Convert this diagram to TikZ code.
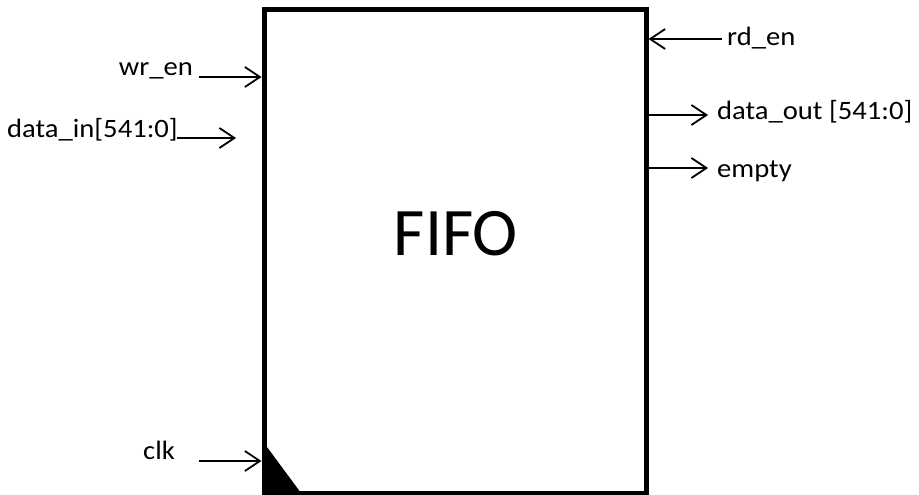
\documentclass[tikz,border=0pt]{standalone}
\usepackage{fontspec}
\setmainfont{Carlito}
\newfontfamily\labfont[FakeStretch=1.08]{Carlito}
\usetikzlibrary{arrows.meta}
\begin{document}
\begin{tikzpicture}[x=1pt,y=-1pt,
  sig/.style={line width=1.8pt,-{Straight Barb[length=15pt,width=20pt,line width=1.8pt]}},
  lab/.style={inner sep=0pt,font=\labfont\fontsize{26.5}{30}\selectfont}]
\useasboundingbox (0,0) rectangle (919,495);
% box
\node[draw,line width=5pt,minimum width=382pt,minimum height=483pt,inner sep=0pt,anchor=north west] (fifo) at (264-2.5,10-2.5) {};
\fill (264,443) -- (264,493) -- (301,493) -- cycle;
\node[inner sep=0pt,anchor=base,font=\fontsize{68}{80}\selectfont] (title) at (456,255) {FIFO};
% labels
\node[lab,anchor=base east] (wr) at (193,76) {wr\_en};
\node[lab,anchor=base west] (din) at (7,137) {data\_in[541:0]};
\node[lab,anchor=base west] (clk) at (143,459) {clk};
\node[lab,anchor=base west] (rd) at (727,46) {rd\_en};
\node[lab,anchor=base west] (dout) at (717,120) {data\_out [541:0]};
\node[lab,anchor=base west] (emp) at (717,177) {empty};
% arrow ends
\coordinate (wrA) at (199,77);
\coordinate (dinA) at (177,138);
\coordinate (dinB) at (236,138);
\coordinate (clkA) at (199,461);
\coordinate (rdA) at (722,39);
\coordinate (doutB) at (708,115);
\coordinate (empB) at (708,168);
\draw[sig] (wrA) -- (wrA -| fifo.west);
\draw[sig] (dinA) -- (dinB);
\draw[sig] (clkA) -- (clkA -| fifo.west);
\draw[sig] (rdA) -- (rdA -| fifo.east);
\draw[sig] (doutB -| fifo.east) -- (doutB);
\draw[sig] (empB -| fifo.east) -- (empB);
\end{tikzpicture}
\end{document}
